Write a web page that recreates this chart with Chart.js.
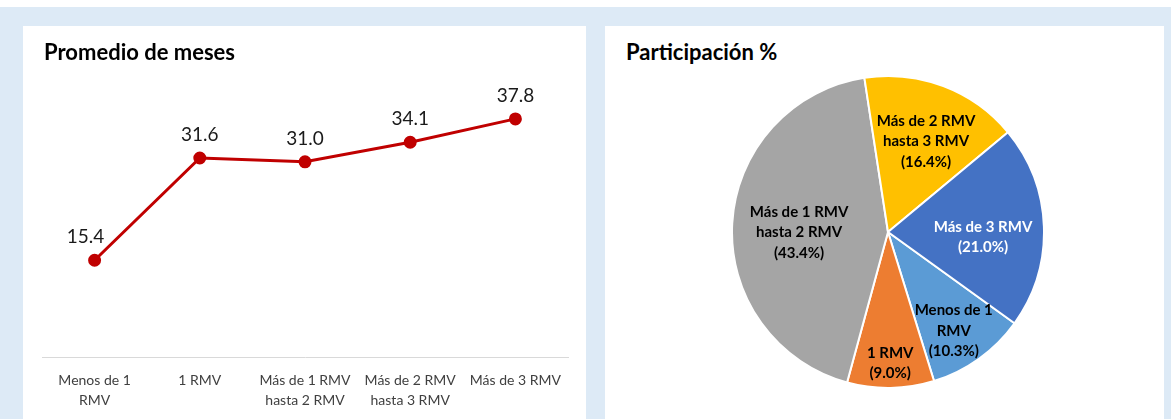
<!DOCTYPE html>
<html>
<head>
<meta charset="utf-8">
<script src="https://cdn.jsdelivr.net/npm/chart.js@4.4.1/dist/chart.umd.min.js"></script>
<style>
  body { margin: 0; background: #fff; font-family: Lato, "Liberation Sans", sans-serif; }
  .bg { position: absolute; left: 0; top: 7px; width: 1171px; height: 412px; background: #ddeaf6; }
  .panel { position: absolute; top: 26px; height: 393px; background: #fff; }
  .title { position: absolute; top: 39px; font-weight: bold; font-size: 22px; line-height: 26px; color: #000; }
  #lineBox { position: absolute; left: 0; top: 0; width: 563px; height: 398px; }
  #pieBox { position: absolute; left: 126px; top: 49px; width: 314px; height: 314px; }
</style>
</head>
<body>
<div class="bg"></div>
<div class="panel" style="left:23px;width:563px;">
  <div id="lineBox"><canvas id="lineChart"></canvas></div>
</div>
<div class="panel" style="left:605px;width:559px;">
  <div id="pieBox"><canvas id="pieChart"></canvas></div>
</div>
<div class="title" style="left:44px;">Promedio de meses</div>
<div class="title" style="left:626px;">Participación %</div>

<script>
// categorias (partidas en lineas como en el grafico)
const categories = [
  ["Menos de 1", "RMV"],
  ["1 RMV"],
  ["Más de 1 RMV", "hasta 2 RMV"],
  ["Más de 2 RMV", "hasta 3 RMV"],
  ["Más de 3 RMV"]
];
const avgMonths = [15.4, 31.6, 31.0, 34.1, 37.8];
const sharePct = [10.3, 9.0, 43.4, 16.4, 21.0];
const pieColors = ["#5b9bd5", "#ed7d31", "#a5a5a5", "#ffc000", "#4472c4"];

const fontFamily = "Lato, 'Liberation Sans', sans-serif";

// etiquetas de valor sobre los puntos
const pointLabels = {
  id: "pointLabels",
  afterDatasetsDraw(chart) {
    const ctx = chart.ctx;
    const meta = chart.getDatasetMeta(0);
    ctx.save();
    ctx.font = "19px " + fontFamily;
    ctx.fillStyle = "#1a1a1a";
    ctx.textAlign = "center";
    ctx.textBaseline = "middle";
    meta.data.forEach((pt, i) => {
      const dx = i === 0 ? -9 : 0;
      ctx.fillText(avgMonths[i].toFixed(1), pt.x + dx, pt.y - 23);
    });
    ctx.restore();
  }
};

new Chart(document.getElementById("lineChart"), {
  type: "line",
  data: {
    labels: categories,
    datasets: [{
      data: avgMonths,
      borderColor: "#c00000",
      backgroundColor: "#c00000",
      borderWidth: 3,
      pointRadius: 5,
      pointHoverRadius: 5,
      tension: 0
    }]
  },
  options: {
    responsive: true,
    maintainAspectRatio: false,
    animation: false,
    layout: { padding: { left: 19, right: 18, top: 79, bottom: 0 } },
    plugins: { legend: { display: false }, tooltip: { enabled: false } },
    scales: {
      x: {
        offset: true,
        grid: { display: false, drawTicks: false },
        border: { display: true, color: "#d9d9d9", width: 1 },
        ticks: {
          color: "#404040",
          font: { family: fontFamily, size: 14, lineHeight: 1.45 },
          padding: 13,
          maxRotation: 0,
          autoSkip: false
        }
      },
      y: { display: false, min: 0, max: 40 }
    }
  },
  plugins: [pointLabels]
});

// etiquetas dentro de cada sector: radio relativo y giro (grados)
const labelRadius = [0.76, 0.84, 0.57, 0.63, 0.61];
const labelTurn = [2, 0, -3.5, 2, 5];
const labelColors = ["#000", "#000", "#000", "#000", "#fff"];
const sliceLabels = {
  id: "sliceLabels",
  afterDatasetsDraw(chart) {
    const ctx = chart.ctx;
    const meta = chart.getDatasetMeta(0);
    ctx.save();
    ctx.font = "bold 15px " + fontFamily;
    ctx.textAlign = "center";
    ctx.textBaseline = "middle";
    meta.data.forEach((arc, i) => {
      const p = arc.getProps(["x", "y", "startAngle", "endAngle", "outerRadius"], true);
      const mid = (p.startAngle + p.endAngle) / 2 + labelTurn[i] * Math.PI / 180;
      const r = p.outerRadius * labelRadius[i];
      const cx = p.x + Math.cos(mid) * r;
      const cy = p.y + Math.sin(mid) * r;
      const lines = categories[i].concat(["(" + sharePct[i].toFixed(1) + "%)"]);
      const lh = 20.5;
      ctx.fillStyle = labelColors[i];
      lines.forEach((t, k) => {
        ctx.fillText(t, cx, cy + (k - (lines.length - 1) / 2) * lh);
      });
    });
    ctx.restore();
  }
};

new Chart(document.getElementById("pieChart"), {
  type: "pie",
  data: {
    labels: categories.map(c => c.join(" ")),
    datasets: [{
      data: sharePct,
      backgroundColor: pieColors,
      borderColor: "#fff",
      borderWidth: 2
    }]
  },
  options: {
    responsive: true,
    maintainAspectRatio: false,
    animation: false,
    rotation: 125.8,
    plugins: { legend: { display: false }, tooltip: { enabled: false } }
  },
  plugins: [sliceLabels]
});
</script>
</body>
</html>
